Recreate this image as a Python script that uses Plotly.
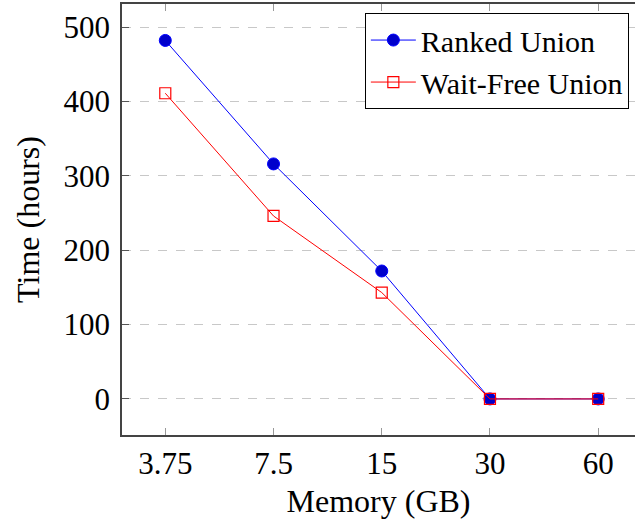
import plotly.graph_objects as go

memory_gb = ["3.75", "7.5", "15", "30", "60"]
ranked_union = [482, 316, 172, 0, 0]
wait_free_union = [411, 246, 143, 0, 0]
y_ticks = [0, 100, 200, 300, 400, 500]

FONT = "Liberation Serif"

fig = go.Figure()
fig.add_trace(go.Scatter(
    x=list(range(len(memory_gb))), y=ranked_union, name="Ranked Union",
    mode="lines+markers",
    line=dict(color="#0000ff", width=1),
    marker=dict(symbol="circle", size=12, color="#0000cc",
                line=dict(color="#0000ff", width=1)),
))
fig.add_trace(go.Scatter(
    x=list(range(len(memory_gb))), y=wait_free_union, name="Wait-Free Union",
    mode="lines+markers",
    line=dict(color="#ff0000", width=1),
    marker=dict(symbol="square-open", size=11, color="#ff0000",
                line=dict(color="#ff0000", width=1.2)),
))

fig.update_layout(
    width=635, height=519,
    margin=dict(l=122, r=0, t=4, b=84),
    paper_bgcolor="white", plot_bgcolor="white",
    font=dict(family=FONT, size=31, color="black"),
    showlegend=True,
    legend=dict(
        x=0.988, y=0.979, xanchor="right", yanchor="top",
        bgcolor="white", bordercolor="black", borderwidth=1,
        font=dict(family=FONT, size=30),
        tracegroupgap=0, itemwidth=45,
    ),
    xaxis=dict(
        range=[-0.4, 4.34],
        tickmode="array", tickvals=list(range(len(memory_gb))), ticktext=memory_gb,
        ticks="inside", ticklen=7, tickcolor="#999999", tickwidth=1,
        showline=True, linecolor="#444444", linewidth=1.5, mirror="allticks",
        showgrid=False, zeroline=False,
        title=dict(text="Memory (GB)", font=dict(family=FONT, size=32), standoff=10),
        tickfont=dict(family=FONT, size=31),
    ),
    yaxis=dict(
        range=[-48.5, 531],
        tickmode="array", tickvals=y_ticks,
        ticks="inside", ticklen=7, tickcolor="#555555", tickwidth=1,
        showline=True, linecolor="#444444", linewidth=1.5, mirror=False,
        showgrid=True, gridcolor="#c8c8c8", griddash="dash", gridwidth=1,
        zeroline=False,
        title=dict(text="Time (hours)", font=dict(family=FONT, size=32), standoff=14),
        tickfont=dict(family=FONT, size=31),
        ticklabelstandoff=4,
    ),
)

fig.write_html("out.html")
